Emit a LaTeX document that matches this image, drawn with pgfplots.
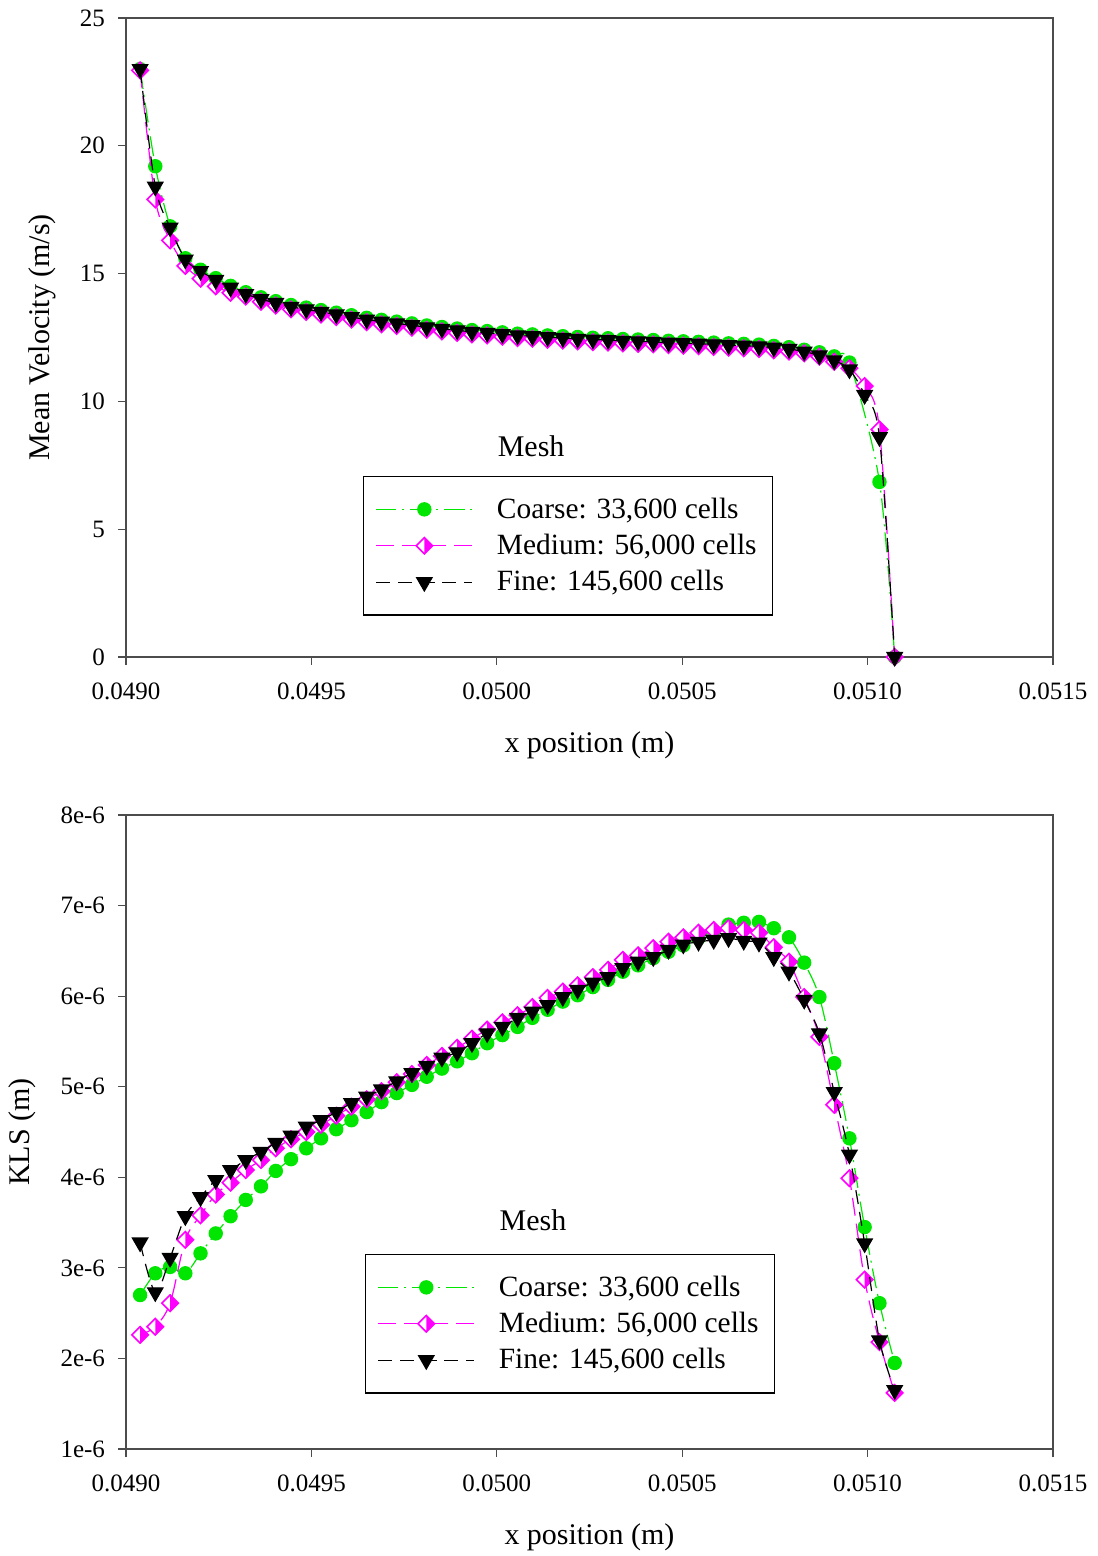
\documentclass[border=0pt]{standalone}
\usepackage{fontspec}
\setmainfont{Liberation Serif}
\usepackage{pgfplots}
\usepackage{pgfplotstable}
\pgfplotsset{compat=1.18}
\definecolor{cgreen}{RGB}{0,230,0}
\definecolor{cmag}{RGB}{255,0,255}

\pgfdeclareplotmark{halfdiamond}{%
  \begin{pgfscope}
  \pgfsetfillcolor{white}
  \pgfpathmoveto{\pgfqpoint{0pt}{\pgfplotmarksize}}%
  \pgfpathlineto{\pgfqpoint{\pgfplotmarksize}{0pt}}%
  \pgfpathlineto{\pgfqpoint{0pt}{-\pgfplotmarksize}}%
  \pgfpathlineto{\pgfqpoint{-\pgfplotmarksize}{0pt}}%
  \pgfpathclose
  \pgfusepathqfill
  \end{pgfscope}
  \pgfpathmoveto{\pgfqpoint{0pt}{\pgfplotmarksize}}%
  \pgfpathlineto{\pgfqpoint{\pgfplotmarksize}{0pt}}%
  \pgfpathlineto{\pgfqpoint{0pt}{-\pgfplotmarksize}}%
  \pgfpathclose
  \pgfusepathqfill
  \pgfpathmoveto{\pgfqpoint{0pt}{\pgfplotmarksize}}%
  \pgfpathlineto{\pgfqpoint{\pgfplotmarksize}{0pt}}%
  \pgfpathlineto{\pgfqpoint{0pt}{-\pgfplotmarksize}}%
  \pgfpathlineto{\pgfqpoint{-\pgfplotmarksize}{0pt}}%
  \pgfpathclose
  \pgfusepathqstroke
}

\pgfplotstableread{
x uc um uf kc km kf
0.049038 23.00 22.95 23.00 2.70e-6 2.26e-6 3.28e-6
0.049079 19.20 17.90 18.40 2.94e-6 2.35e-6 2.73e-6
0.049119 16.85 16.30 16.80 3.01e-6 2.61e-6 3.11e-6
0.049160 15.60 15.30 15.55 2.94e-6 3.31e-6 3.57e-6
0.049201 15.15 14.80 15.10 3.16e-6 3.58e-6 3.78e-6
0.049242 14.82 14.50 14.75 3.38e-6 3.81e-6 3.97e-6
0.049282 14.52 14.25 14.45 3.57e-6 3.94e-6 4.08e-6
0.049323 14.27 14.10 14.20 3.75e-6 4.08e-6 4.19e-6
0.049364 14.07 13.90 14.00 3.90e-6 4.19e-6 4.28e-6
0.049404 13.92 13.75 13.85 4.07e-6 4.32e-6 4.38e-6
0.049445 13.77 13.60 13.70 4.20e-6 4.42e-6 4.46e-6
0.049486 13.67 13.50 13.60 4.32e-6 4.50e-6 4.56e-6
0.049526 13.57 13.40 13.50 4.43e-6 4.58e-6 4.63e-6
0.049567 13.47 13.30 13.40 4.53e-6 4.68e-6 4.72e-6
0.049608 13.37 13.20 13.30 4.63e-6 4.78e-6 4.82e-6
0.049649 13.27 13.10 13.20 4.72e-6 4.86e-6 4.89e-6
0.049689 13.19 13.02 13.12 4.83e-6 4.95e-6 4.97e-6
0.049730 13.12 12.95 13.05 4.93e-6 5.05e-6 5.06e-6
0.049771 13.05 12.88 12.98 5.02e-6 5.14e-6 5.15e-6
0.049811 12.97 12.80 12.90 5.11e-6 5.24e-6 5.23e-6
0.049852 12.91 12.74 12.84 5.20e-6 5.34e-6 5.32e-6
0.049893 12.85 12.68 12.78 5.28e-6 5.43e-6 5.38e-6
0.049933 12.79 12.62 12.72 5.37e-6 5.53e-6 5.48e-6
0.049974 12.75 12.58 12.68 5.48e-6 5.63e-6 5.59e-6
0.050015 12.70 12.53 12.63 5.57e-6 5.71e-6 5.66e-6
0.050056 12.65 12.48 12.58 5.66e-6 5.79e-6 5.76e-6
0.050096 12.62 12.45 12.55 5.76e-6 5.88e-6 5.83e-6
0.050137 12.58 12.41 12.51 5.85e-6 5.98e-6 5.90e-6
0.050178 12.55 12.38 12.48 5.94e-6 6.05e-6 5.99e-6
0.050218 12.52 12.35 12.45 6.01e-6 6.12e-6 6.07e-6
0.050259 12.49 12.32 12.42 6.10e-6 6.21e-6 6.15e-6
0.050300 12.47 12.30 12.40 6.18e-6 6.29e-6 6.21e-6
0.050340 12.44 12.27 12.37 6.27e-6 6.40e-6 6.31e-6
0.050381 12.42 12.25 12.35 6.34e-6 6.45e-6 6.38e-6
0.050422 12.40 12.23 12.33 6.42e-6 6.53e-6 6.43e-6
0.050463 12.37 12.20 12.30 6.49e-6 6.60e-6 6.51e-6
0.050503 12.35 12.18 12.28 6.56e-6 6.65e-6 6.57e-6
0.050544 12.33 12.16 12.26 6.64e-6 6.70e-6 6.60e-6
0.050585 12.30 12.13 12.23 6.72e-6 6.73e-6 6.62e-6
0.050625 12.27 12.10 12.20 6.79e-6 6.75e-6 6.64e-6
0.050666 12.25 12.08 12.18 6.81e-6 6.73e-6 6.61e-6
0.050707 12.22 12.05 12.15 6.82e-6 6.70e-6 6.59e-6
0.050747 12.17 12.00 12.10 6.75e-6 6.54e-6 6.43e-6
0.050788 12.12 11.95 12.05 6.65e-6 6.38e-6 6.27e-6
0.050829 12.02 11.88 11.95 6.37e-6 5.99e-6 5.96e-6
0.050870 11.92 11.75 11.80 5.99e-6 5.55e-6 5.59e-6
0.050910 11.76 11.55 11.60 5.26e-6 4.80e-6 4.94e-6
0.050951 11.52 11.30 11.25 4.43e-6 3.99e-6 4.25e-6
0.050992 nan 10.60 10.25 3.45e-6 2.87e-6 3.27e-6
0.051032 6.85 8.90 8.60 2.61e-6 2.18e-6 2.20e-6
0.051073 0.00 0.00 0.00 1.95e-6 1.62e-6 1.65e-6
}\data

\pgfplotsset{
  myaxis/.style={
    scale only axis,
    width=463.5pt,
    xmin=0.049, xmax=0.0515,
    xtick={0.049,0.0495,0.05,0.0505,0.051,0.0515},
    xticklabels={0.0490,0.0495,0.0500,0.0505,0.0510,0.0515},
    scaled x ticks=false, scaled y ticks=false,
    tick align=outside,
    xtick pos=left, ytick pos=left,
    major tick length=4pt,
    minor tick num=0,
    axis line style={black!70, line width=0.6pt},
    every tick/.style={black!70, line width=0.6pt},
    tick label style={font=\fontsize{12.5}{14}\selectfont},
    xticklabel style={yshift=-5.5pt},
    yticklabel style={xshift=-3pt},
    label style={font=\fontsize{15}{18}\selectfont},
    xlabel={x position (m)},
    clip mode=individual,
    unbounded coords=discard,
    legend cell align=left,
    legend style={draw=black, line width=0.7pt, fill=white,
      font=\fontsize{14.7}{17.6}\selectfont,
      inner xsep=6pt, inner ysep=8.5pt, row sep=2.5pt,
      /tikz/every odd column/.append style={column sep=10pt}},
    legend image code/.code={%
      \draw[mark repeat=2,mark phase=2,#1] plot coordinates {(0pt,0pt) (24pt,0pt) (48pt,0pt)};},
  },
  cstyle/.style={cgreen, line width=0.6pt, smooth,
    dash pattern=on 10pt off 3pt on 1pt off 3pt,
    mark=*, mark size=3.3pt, mark options={solid, fill=cgreen, draw=cgreen}},
  mstyle/.style={cmag, line width=0.6pt, smooth,
    dash pattern=on 9pt off 4pt,
    mark=halfdiamond, mark size=4.1pt, mark options={solid, fill=cmag, draw=cmag, line width=0.8pt}},
  fstyle/.style={black, line width=0.6pt, smooth,
    dash pattern=on 7pt off 4pt,
    mark=triangle*, mark size=4.4pt, mark options={solid, rotate=180, fill=black}},
}

\begin{document}
\begin{tikzpicture}
\useasboundingbox (0,0) rectangle (548.5pt,778pt);
% top axis
\begin{axis}[myaxis,
  at={(63pt,449.5pt)}, anchor=south west,
  height=319.5pt,
  ymin=0, ymax=25,
  ytick={0,5,10,15,20,25},
  yticklabels={0,5,10,15,20,25},
  ylabel={Mean Velocity (m/s)},
  ylabel style={at={(axis description cs:-0.0906,0.5)}, anchor=center},
  xlabel style={at={(axis description cs:0.5,-0.1375)}, anchor=center},
  legend style={at={(0.2557,0.2833)}, anchor=north west},
]
\addplot[cstyle] table[x=x, y=uc] {\data};
\addlegendentry{Coarse: 33,600 cells}
\addplot[mstyle] table[x=x, y=um] {\data};
\addlegendentry{Medium: 56,000 cells}
\addplot[fstyle] table[x=x, y=uf] {\data};
\addlegendentry{Fine: 145,600 cells}
\node[font=\fontsize{15}{18}\selectfont] at (rel axis cs:0.437,0.330) {Mesh};
\end{axis}
% bottom axis
\begin{axis}[myaxis,
  at={(63pt,53.5pt)}, anchor=south west,
  height=317pt,
  ymin=1e-6, ymax=8e-6,
  ytick={1e-6,2e-6,3e-6,4e-6,5e-6,6e-6,7e-6,8e-6},
  yticklabels={1e-6,2e-6,3e-6,4e-6,5e-6,6e-6,7e-6,8e-6},
  ylabel={KLS (m)},
  ylabel style={at={(axis description cs:-0.1122,0.5)}, anchor=center},
  xlabel style={at={(axis description cs:0.5,-0.1385)}, anchor=center},
  legend style={at={(0.2578,0.3076)}, anchor=north west},
]
\addplot[cstyle] table[x=x, y=kc] {\data};
\addlegendentry{Coarse: 33,600 cells}
\addplot[mstyle] table[x=x, y=km] {\data};
\addlegendentry{Medium: 56,000 cells}
\addplot[fstyle] table[x=x, y=kf] {\data};
\addlegendentry{Fine: 145,600 cells}
\node[font=\fontsize{15}{18}\selectfont] at (rel axis cs:0.439,0.361) {Mesh};
\end{axis}
\end{tikzpicture}
\end{document}
